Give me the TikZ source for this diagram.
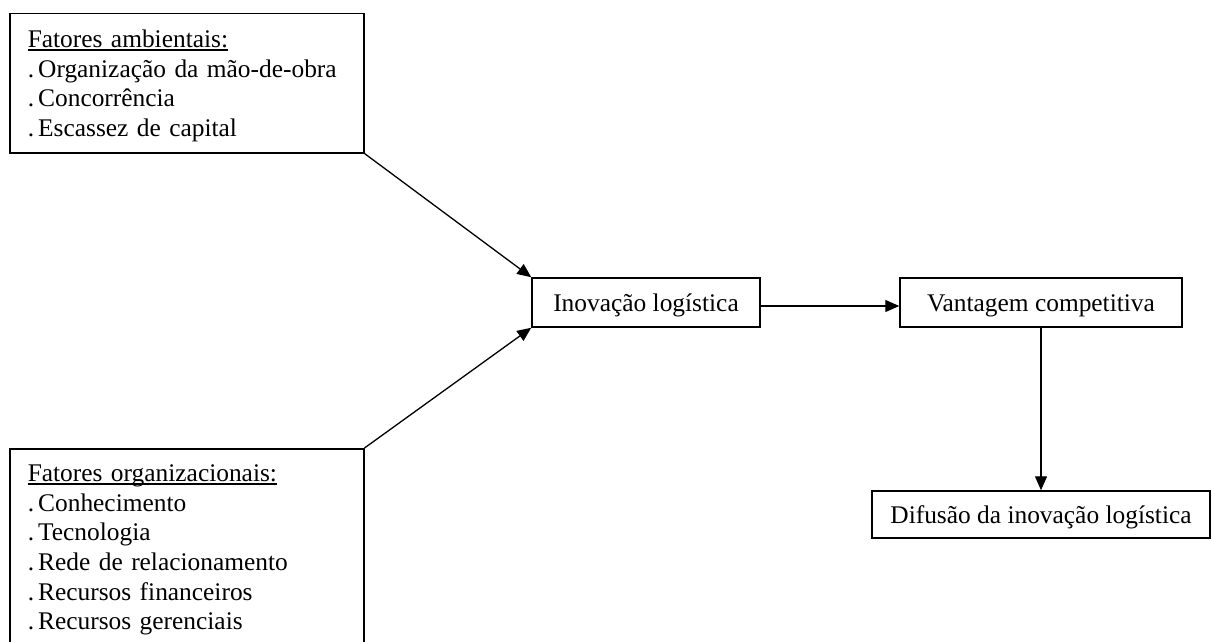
\documentclass[tikz,border=0pt]{standalone}
\usepackage{fontspec}
\setmainfont{Liberation Serif}
\usetikzlibrary{arrows.meta}

% underlined heading with a rule placed just under the baseline
\newcommand{\ulhead}[1]{\setbox0\hbox{#1}\rlap{\rule[-3pt]{\wd0}{1.5pt}}\box0}
% list marker: a dot followed by a short gap
\newcommand{\itm}{.\kern0.16em}
% invisible strut that sets the height of a first line
\newcommand{\topstrut}[1]{\rule{0pt}{#1}}

\begin{document}
\begin{tikzpicture}[x=1pt,y=-1pt,
  box/.style={draw=black, line width=1.5pt, rectangle, inner sep=0pt},
  listbox/.style={box, anchor=north west, text width=318pt,
    inner xsep=18pt, inner ysep=10pt, align=left},
  flowbox/.style={box, anchor=center, text height=17pt, text depth=0pt},
  flow/.style={line width=1.3pt, -{Triangle[length=14pt,width=12pt]}},
  font=\fontsize{25.4pt}{29.6pt}\selectfont]

\useasboundingbox (0,0) rectangle (1212,642);
\clip (0,0) rectangle (1212,642);

% factor lists
\node[listbox, minimum height=139pt] (amb) at (9,13)
  {\topstrut{23.3pt}\ulhead{Fatores ambientais:}\\
   \itm Organização da mão-de-obra\\
   \itm Concorrência\\
   \itm Escassez de capital};

\node[listbox] (org) at (9,448)
  {\topstrut{23pt}\ulhead{Fatores organizacionais:}\\
   \itm Conhecimento\\
   \itm Tecnologia\\
   \itm Rede de relacionamento\\
   \itm Recursos financeiros\\
   \itm Recursos gerenciais};

% main chain
\node[flowbox, minimum width=228pt, minimum height=49pt] (inov) at (646,302.5)
  {Inovação logística};
\node[flowbox, minimum width=282pt, minimum height=49pt] (vant) at (1041,302.5)
  {Vantagem competitiva};
\node[flowbox, minimum width=338pt, minimum height=47pt] (dif) at (1041,514.5)
  {Difusão da inovação logística};

% connectors
\draw[flow] (amb.south east) -- (inov.north west);
\draw[flow] (org.north east) -- (inov.south west);
\draw[flow] ([yshift=-3.5pt]inov.east) -- ([yshift=-3.5pt]vant.west);
\draw[flow] (vant.south) -- (dif.north);

\end{tikzpicture}
\end{document}
